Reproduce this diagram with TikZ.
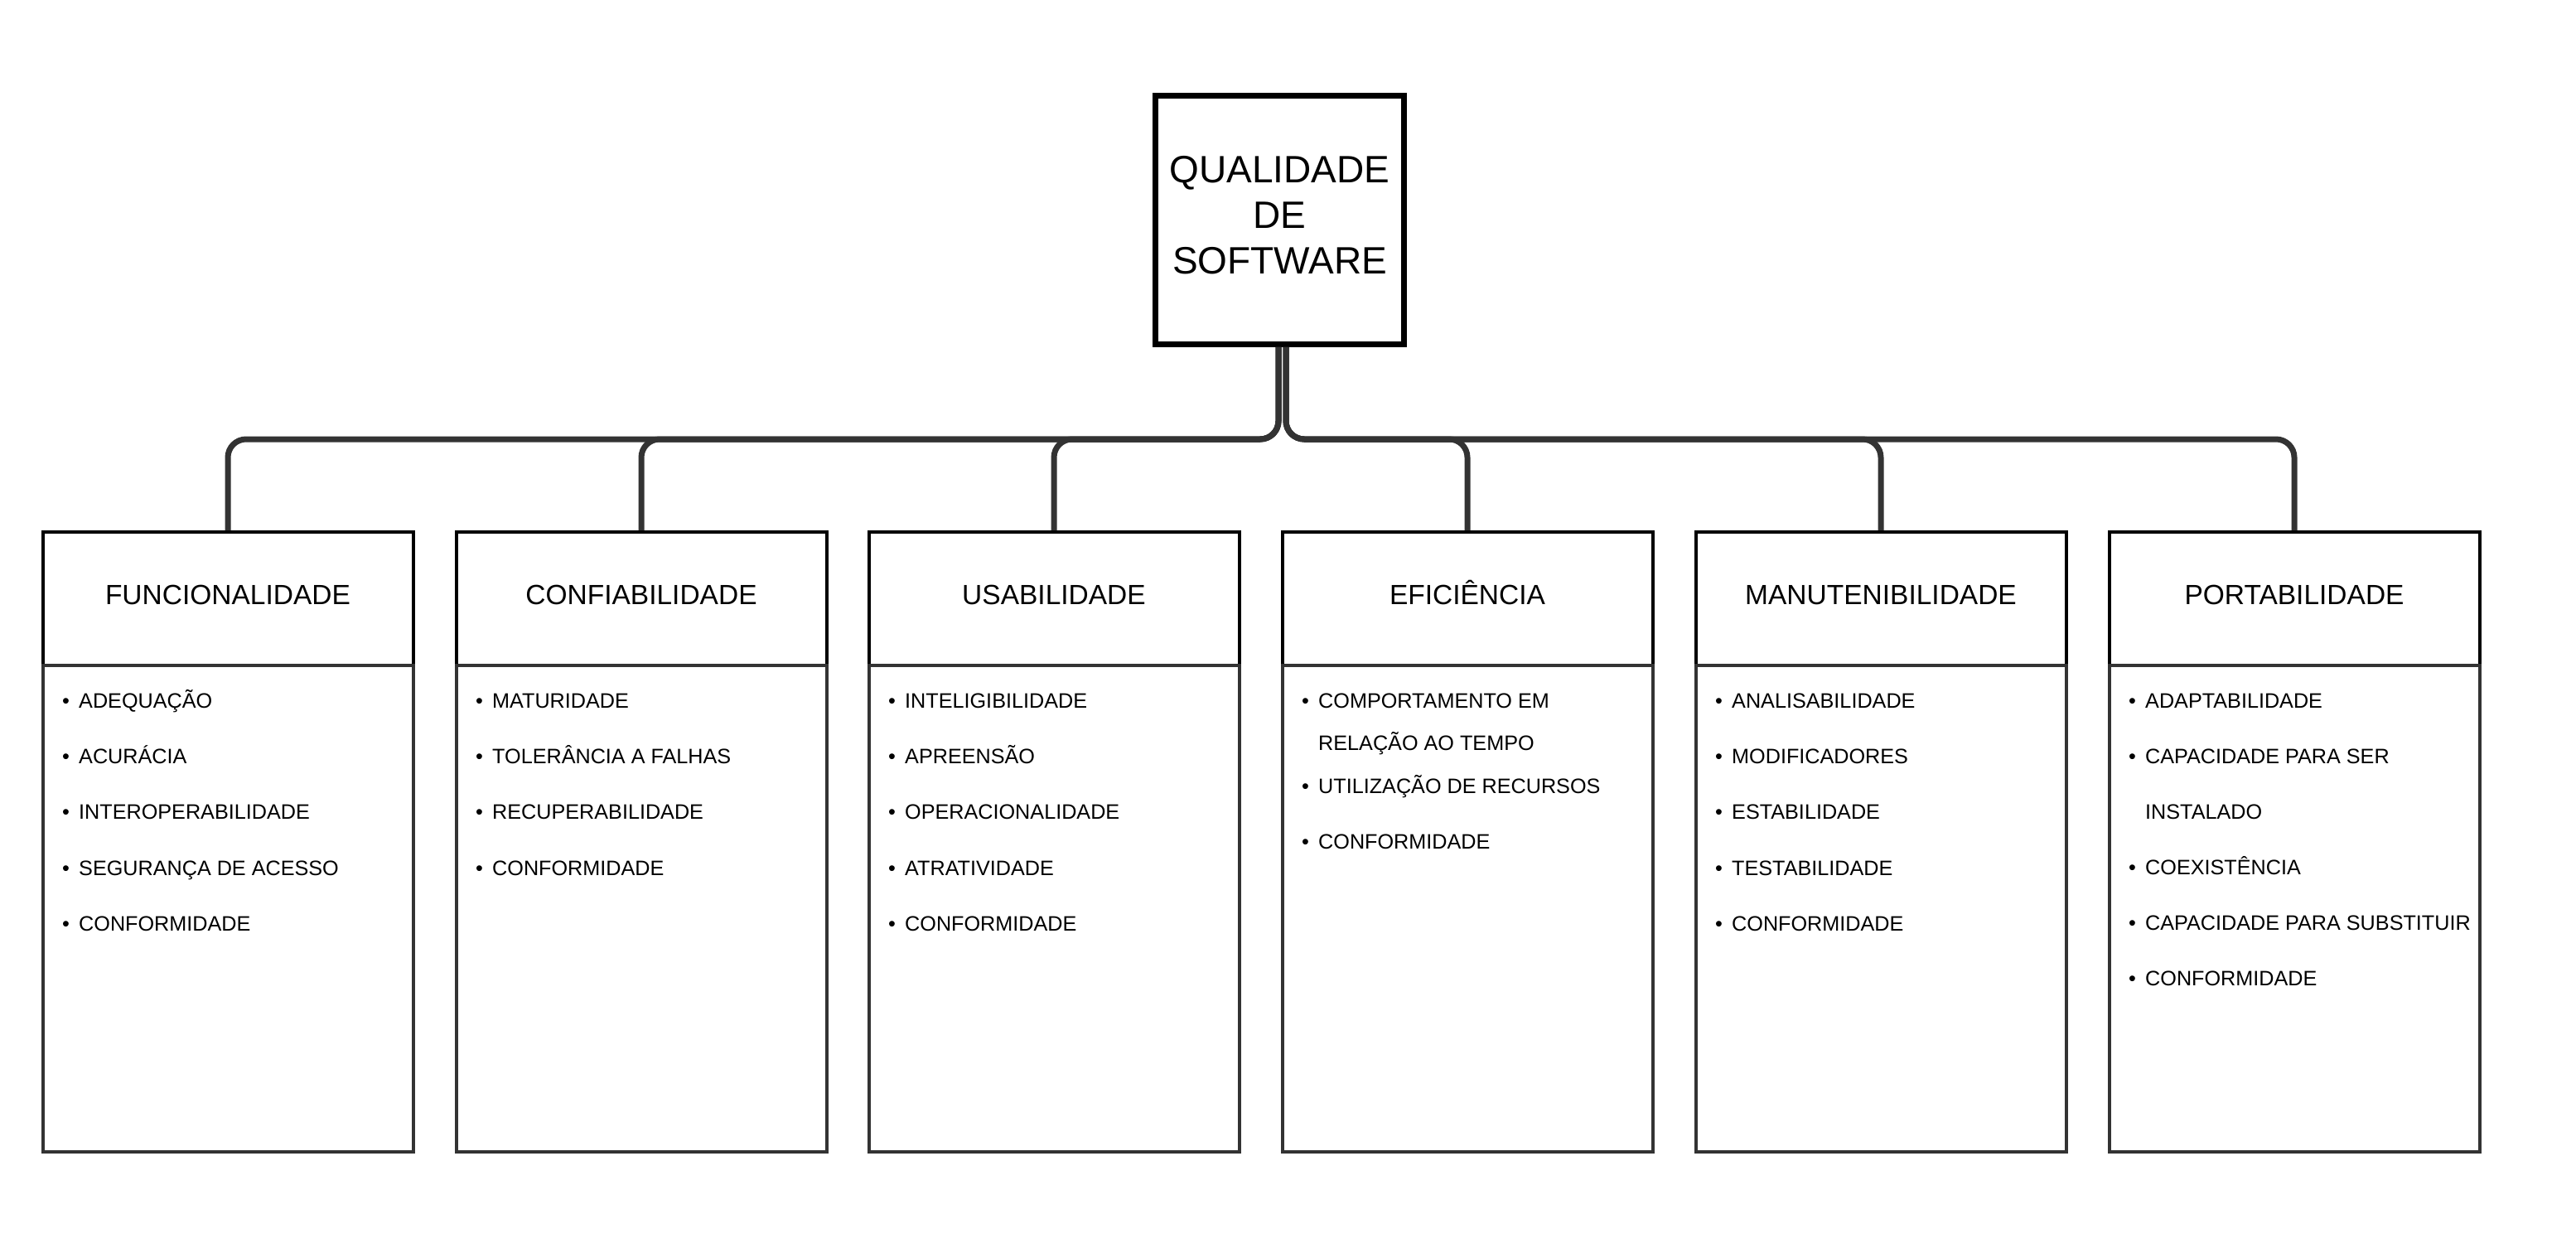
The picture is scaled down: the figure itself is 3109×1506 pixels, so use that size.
\documentclass[tikz,border=0pt]{standalone}
\usepackage{fontspec}
\setmainfont{Liberation Sans}
\definecolor{linegray}{HTML}{333333}
\newcommand\listentry[4]{%
  \node[bul] (#1b) at (#2+25,#3) {•};
  \node[itm] (#1) at (#2+45,#3) {#4};}
\newcommand\contline[4]{%
  \node[itm] (#1) at (#2+45,#3) {#4};}
\begin{document}
\begin{tikzpicture}[x=1pt,y=-1pt,
  conn/.style={draw=linegray, line width=7pt, rounded corners=22pt},
  titlebox/.style={draw=black, line width=6.5pt, minimum width=300pt, minimum height=300pt,
    inner sep=0pt, align=center, text depth=12pt, font=\fontsize{46}{55}\selectfont},
  headbox/.style={draw=black, line width=4pt, minimum width=447pt, minimum height=161pt, inner sep=0pt},
  bodybox/.style={draw=linegray, line width=4pt, minimum width=447pt, minimum height=587pt, inner sep=0pt},
  headtext/.style={anchor=base, inner sep=0pt, font=\fontsize{33.5}{40}\selectfont},
  itm/.style={anchor=base west, inner sep=0pt, font=\fontsize{25.2}{30}\selectfont},
  bul/.style={anchor=base west, inner sep=0pt, font=\fontsize{25.2}{30}\selectfont}
]
\useasboundingbox (0,0) rectangle (3109,1506);
\fill[white] (0,0) rectangle (3109,1506);

\node[titlebox] (top) at (1544.5,265.5) {QUALIDADE\\DE\\SOFTWARE};

% category boxes
\foreach \i/\x/\name in {1/50/FUNCIONALIDADE, 2/549/CONFIABILIDADE, 3/1047/USABILIDADE,
    4/1546/EFICIÊNCIA, 5/2045/MANUTENIBILIDADE, 6/2544/PORTABILIDADE}{
  \node[headbox] (h\i) at (\x+225,722.5) {};
  \node[bodybox] (b\i) at (\x+225,1096.5) {};
  \node[headtext] (t\i) at (\x+225,729) {\name};
}

% connectors
\coordinate (bus) at (0,530);
\foreach \i in {1,2,3}{
  \draw[conn] ([xshift=-1.5pt]top.south) -- ([xshift=-1.5pt]top.south |- bus) -- (h\i.north |- bus) -- (h\i.north);
}
\foreach \i in {4,5,6}{
  \draw[conn] ([xshift=7.5pt]top.south) -- ([xshift=7.5pt]top.south |- bus) -- (h\i.north |- bus) -- (h\i.north);
}

% lists
\listentry{a1}{50}{854}{ADEQUAÇÃO}
\listentry{a2}{50}{921}{ACURÁCIA}
\listentry{a3}{50}{988}{INTEROPERABILIDADE}
\listentry{a4}{50}{1056}{SEGURANÇA DE ACESSO}
\listentry{a5}{50}{1123}{CONFORMIDADE}

\listentry{c1}{549}{854}{MATURIDADE}
\listentry{c2}{549}{921}{TOLERÂNCIA A FALHAS}
\listentry{c3}{549}{988}{RECUPERABILIDADE}
\listentry{c4}{549}{1056}{CONFORMIDADE}

\listentry{u1}{1047}{854}{INTELIGIBILIDADE}
\listentry{u2}{1047}{921}{APREENSÃO}
\listentry{u3}{1047}{988}{OPERACIONALIDADE}
\listentry{u4}{1047}{1056}{ATRATIVIDADE}
\listentry{u5}{1047}{1123}{CONFORMIDADE}

\listentry{e1}{1546}{854}{COMPORTAMENTO EM}
\contline{e1x}{1546}{905}{RELAÇÃO AO TEMPO}
\listentry{e2}{1546}{957}{UTILIZAÇÃO DE RECURSOS}
\listentry{e3}{1546}{1024}{CONFORMIDADE}

\listentry{m1}{2045}{854}{ANALISABILIDADE}
\listentry{m2}{2045}{921}{MODIFICADORES}
\listentry{m3}{2045}{988}{ESTABILIDADE}
\listentry{m4}{2045}{1056}{TESTABILIDADE}
\listentry{m5}{2045}{1123}{CONFORMIDADE}

\listentry{p1}{2544}{854}{ADAPTABILIDADE}
\listentry{p2}{2544}{921}{CAPACIDADE PARA SER}
\contline{p2x}{2544}{988}{INSTALADO}
\listentry{p3}{2544}{1055}{COEXISTÊNCIA}
\listentry{p4}{2544}{1122}{CAPACIDADE PARA SUBSTITUIR}
\listentry{p5}{2544}{1189}{CONFORMIDADE}
\end{tikzpicture}
\end{document}
